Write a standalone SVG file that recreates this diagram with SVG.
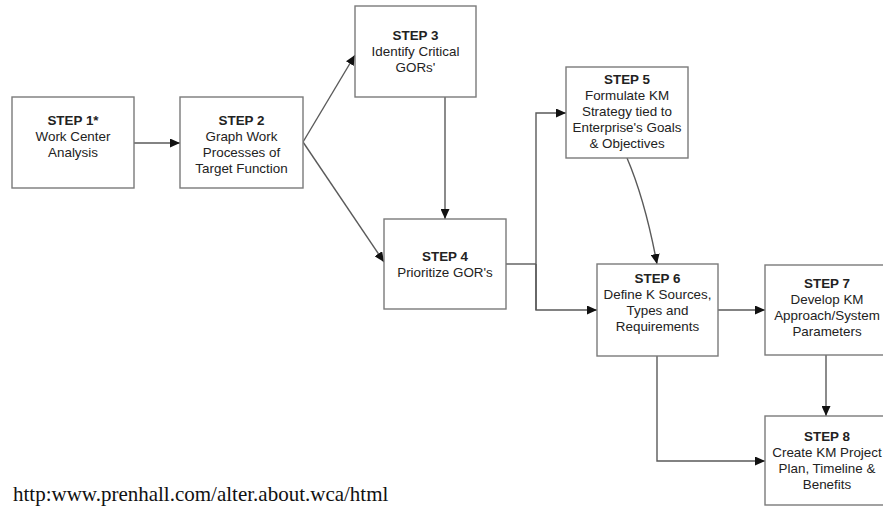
<svg xmlns="http://www.w3.org/2000/svg" width="883" height="507" viewBox="0 0 883 507">
  <style>
    .box { fill: #ffffff; stroke: #7a7a7a; stroke-width: 1.4; }
    .lbl { font-family: "Liberation Sans", Arial, sans-serif; font-size: 13.4px; fill: #222222; text-anchor: middle; }
    .hd { font-weight: bold; }
    .wire { fill: none; stroke: #5a5a5a; stroke-width: 1.4; }
    .url { font-family: "Liberation Serif", "Times New Roman", serif; font-size: 21px; fill: #111111; }
  </style>
  <defs>
    <marker id="arrow" markerUnits="userSpaceOnUse" markerWidth="10" markerHeight="9" refX="10" refY="4.5" orient="auto">
      <path d="M0,0 L10,4.5 L0,9 z" fill="#111111"/>
    </marker>
  </defs>
  <rect width="883" height="507" fill="#ffffff"/>

  <!-- connectors -->
  <g id="connectors">
    <line class="wire" x1="134" y1="143" x2="180" y2="143" marker-end="url(#arrow)"/>
    <line class="wire" x1="303" y1="142" x2="355" y2="55" marker-end="url(#arrow)"/>
    <line class="wire" x1="303" y1="142" x2="384" y2="262" marker-end="url(#arrow)"/>
    <line class="wire" x1="445" y1="97" x2="445" y2="219" marker-end="url(#arrow)"/>
    <line class="wire" x1="506" y1="264" x2="536" y2="264"/>
    <polyline class="wire" points="536,310 536,113 566,113" marker-end="url(#arrow)"/>
    <polyline class="wire" points="536,264 536,310 597,310" marker-end="url(#arrow)"/>
    <path class="wire" d="M627,158 Q645,200 657,264" marker-end="url(#arrow)"/>
    <line class="wire" x1="718" y1="310" x2="765" y2="310" marker-end="url(#arrow)"/>
    <line class="wire" x1="826" y1="355" x2="826" y2="416" marker-end="url(#arrow)"/>
    <polyline class="wire" points="657,356 657,461 765,461" marker-end="url(#arrow)"/>
  </g>

  <g id="step1">
    <rect class="box" x="12" y="97" width="122" height="91"/>
    <text class="lbl hd" x="73" y="125">STEP 1*</text>
    <text class="lbl" x="73" y="141">Work Center</text>
    <text class="lbl" x="73" y="157">Analysis</text>
  </g>

  <g id="step2">
    <rect class="box" x="180" y="97" width="123" height="91"/>
    <text class="lbl hd" x="241.5" y="125">STEP 2</text>
    <text class="lbl" x="241.5" y="141">Graph Work</text>
    <text class="lbl" x="241.5" y="157">Processes of</text>
    <text class="lbl" x="241.5" y="173">Target Function</text>
  </g>

  <g id="step3">
    <rect class="box" x="355" y="6" width="121" height="91"/>
    <text class="lbl hd" x="415.5" y="40">STEP 3</text>
    <text class="lbl" x="415.5" y="56">Identify Critical</text>
    <text class="lbl" x="415.5" y="72">GORs'</text>
  </g>

  <g id="step4">
    <rect class="box" x="384" y="219" width="122" height="90"/>
    <text class="lbl hd" x="445" y="261">STEP 4</text>
    <text class="lbl" x="445" y="277">Prioritize GOR's</text>
  </g>

  <g id="step5">
    <rect class="box" x="566" y="67" width="122" height="91"/>
    <text class="lbl hd" x="627" y="84">STEP 5</text>
    <text class="lbl" x="627" y="100">Formulate KM</text>
    <text class="lbl" x="627" y="116">Strategy tied to</text>
    <text class="lbl" x="627" y="132">Enterprise's Goals</text>
    <text class="lbl" x="627" y="148">&amp; Objectives</text>
  </g>

  <g id="step6">
    <rect class="box" x="597" y="264" width="121" height="92"/>
    <text class="lbl hd" x="657.5" y="283">STEP 6</text>
    <text class="lbl" x="657.5" y="299">Define K Sources,</text>
    <text class="lbl" x="657.5" y="315">Types and</text>
    <text class="lbl" x="657.5" y="331">Requirements</text>
  </g>

  <g id="step7">
    <rect class="box" x="765" y="265" width="124" height="90"/>
    <text class="lbl hd" x="827" y="288">STEP 7</text>
    <text class="lbl" x="827" y="304">Develop KM</text>
    <text class="lbl" x="827" y="320">Approach/System</text>
    <text class="lbl" x="827" y="336">Parameters</text>
  </g>

  <g id="step8">
    <rect class="box" x="765" y="416" width="124" height="89"/>
    <text class="lbl hd" x="827" y="441">STEP 8</text>
    <text class="lbl" x="827" y="457">Create KM Project</text>
    <text class="lbl" x="827" y="473">Plan, Timeline &amp;</text>
    <text class="lbl" x="827" y="489">Benefits</text>
  </g>

  <text class="url" x="13" y="501">http:www.prenhall.com/alter.about.wca/html</text>
</svg>
